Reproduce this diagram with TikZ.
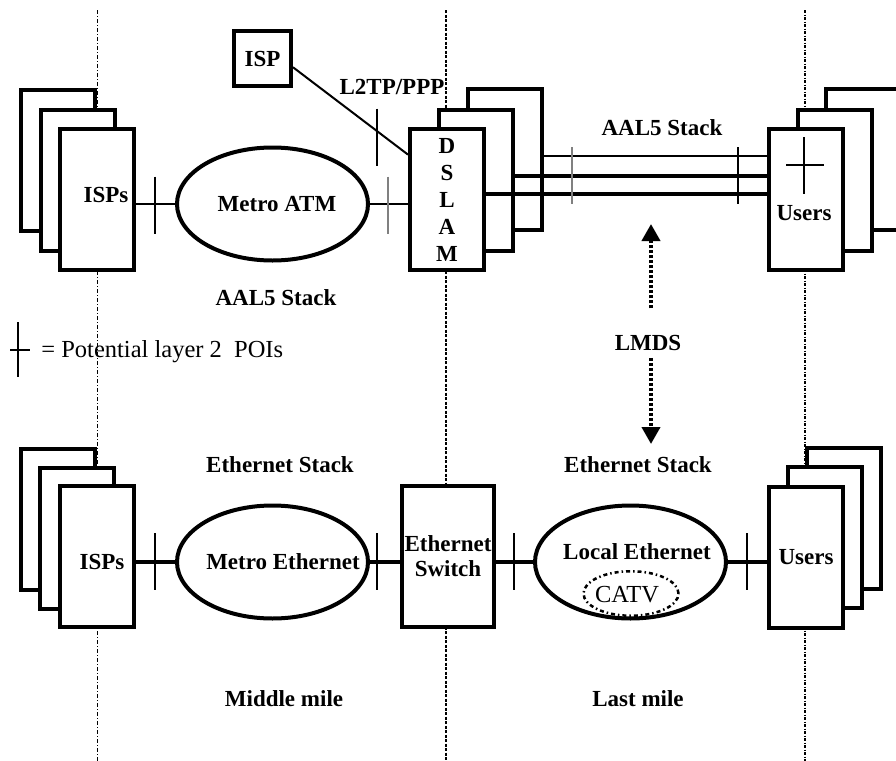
\documentclass[tikz,border=0pt]{standalone}
\usepackage{fontspec}
\setmainfont{Liberation Serif}
\usetikzlibrary{arrows.meta,positioning,shapes.geometric,calc}

\tikzset{
  stackbox/.style={draw, line width=2pt, fill=white, minimum width=37pt, minimum height=70.5pt, inner sep=0pt},
  netcloud/.style={draw, ellipse, line width=2pt, fill=white, minimum width=95.5pt, minimum height=56.5pt, inner sep=0pt},
  poi/.style={line width=1pt},
  link/.style={line width=1pt},
  fatlink/.style={line width=2pt},
  plain/.style={font=\fontsize{12.25}{14}\selectfont\mdseries},
  lmdsarrow/.style={line width=2pt, dash pattern=on 1.5pt off 1pt, -{Triangle[length=8.5pt,width=9pt]}},
}

\begin{document}
\begin{tikzpicture}[x=0.5pt, y=-0.5pt, font=\fontsize{11.5}{13.5}\selectfont\bfseries]
  \clip (0,0) rectangle (896,761);

  % Dividers
  \draw[line width=0.5pt, dash pattern=on 2pt off 1pt on 0.5pt off 1pt] (97,10) -- (97,761);
  \draw[line width=1.25pt, dash pattern=on 1.5pt off 0.75pt] (446,10) -- (446,761);
  \draw[line width=0.9pt, dash pattern=on 1.5pt off 0.75pt on 0.5pt off 0.75pt] (805,10) -- (805,761);

  % Top row: ISPs, Metro ATM, DSLAM, Users
  \foreach \n/\x/\y in {A/58/160.5, B/77.5/180, C/97/199.5}
    \node[stackbox] (ispsT\n) at (\x,\y) {};
  \node (ispsTtext) at (106,195) {ISPs};

  \node[netcloud] (atm) at (272.5,204) {};
  \node (atmtext) at (277,204) {Metro ATM};

  \foreach \n/\x/\y in {A/505/159.5, B/476/180}
    \node[stackbox] (dslam\n) at (\x,\y) {};
  \node[stackbox, align=center] (dslamC) at (447,199.5) {D\\S\\L\\A\\M};

  \foreach \n/\x/\y in {A/863/159.5, B/834.5/180, C/806/199.5}
    \node[stackbox] (usersT\n) at (\x,\y) {};
  \node (usersTtext) at (804,213) {Users};

  \node[draw, line width=2pt, fill=white, minimum width=28.5pt, minimum height=27.5pt, inner sep=0pt] (isp) at (262.5,58.5) {ISP};

  \draw[link] (atm.west -| ispsTC.east) -- (atm.west);
  \draw[link] (atm.east) -- (atm.east -| dslamC.west);
  \draw[link] (isp.-16) -- (dslamC.131);

  % AAL5 links
  \coordinate (yA) at (0,156);
  \coordinate (yB) at (0,176);
  \coordinate (yC) at (0,194);
  \draw[link] (dslamA.east |- yA) -- (usersTC.west |- yA);
  \draw[fatlink] (dslamB.east |- yB) -- (usersTC.west |- yB);
  \draw[fatlink] (dslamC.east |- yC) -- (usersTC.west |- yC);

  % Bottom row: ISPs, Metro Ethernet, switch, Local Ethernet, Users
  \foreach \n/\x/\y in {A/58/519, B/77/538, C/97/556.5}
    \node[stackbox] (ispsB\n) at (\x,\y) {};
  \node (ispsBtext) at (102,562) {ISPs};

  \node[netcloud] (metEth) at (272.5,562) {};
  \node (metEthtext) at (283,562) {Metro Ethernet};
  \node[stackbox, minimum width=46pt, align=center, font=\fontsize{11.5}{12.5}\selectfont\bfseries] (switch) at (448,556.5) {Ethernet\\Switch};
  \node[netcloud] (locEth) at (630.5,562) {};
  \node (locEthtext) at (637,552) {Local Ethernet};
  \node[ellipse, draw, line width=1.25pt, dash pattern=on 2pt off 1.5pt on 0.75pt off 1.5pt, minimum width=47.5pt, minimum height=22.25pt, inner sep=0pt, plain] (catv) at (631,593.5) {};
  \node[plain] (catvtext) at (627,595) {CATV};

  \foreach \n/\x/\y in {A/844/518.5, B/824.5/537.5}
    \node[stackbox] (usersB\n) at (\x,\y) {};
  \node[stackbox] (usersBC) at (806,557) {Users};

  \draw[fatlink] (metEth.west -| ispsBC.east) -- (metEth.west);
  \draw[fatlink] (metEth.east) -- (metEth.east -| switch.west);
  \draw[fatlink] (locEth.west -| switch.east) -- (locEth.west);
  \draw[fatlink] (locEth.east) -- (locEth.east -| usersBC.west);

  % POI marks
  \foreach \x/\y/\c in {155/205/black, 388/205/black!50, 377/137/black, 572/175.5/black!50, 738/175.5/black,
                        155/561.5/black, 377/561.5/black, 514/561.5/black, 747/561.5/black}
    \draw[poi, \c] (\x,\y-28.5) -- (\x,\y+28.5);
  \draw[poi] (804,137) -- (804,194);
  \draw[poi] (786,165) -- (824,165);

  % Legend
  \draw[poi] (18,322) -- (18,377);
  \draw[poi] (10,350) -- (30,350);
  \node[plain, anchor=west, inner sep=0pt] (legend) at (41,352) {= Potential layer 2\ \ POIs};

  % LMDS
  \node (lmds) at (648,343) {LMDS};
  \coordinate (lmdsUp) at (651,224);
  \coordinate (lmdsDown) at (651,444);
  \draw[lmdsarrow, shorten <=9.9pt] (lmds.north -| lmdsUp) -- (lmdsUp);
  \draw[lmdsarrow] (lmds.south -| lmdsDown) -- (lmdsDown);

  % Labels
  \node (l2tp) at (392,87) {L2TP/PPP};
  \node (aalTop) at (662,128) {AAL5 Stack};
  \node (aalBottom) at (276,298) {AAL5 Stack};
  \node (ethLeft) at (280,465) {Ethernet Stack};
  \node (ethRight) at (638,465) {Ethernet Stack};
  \node (middle) at (284,699) {Middle mile};
  \node (last) at (638,699) {Last mile};
\end{tikzpicture}
\end{document}
